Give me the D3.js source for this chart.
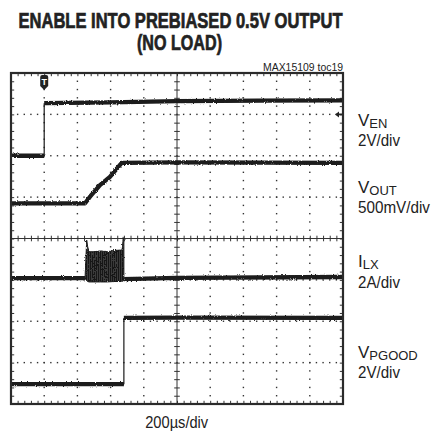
<!DOCTYPE html>
<html>
<head>
<meta charset="utf-8">
<script src="https://cdn.jsdelivr.net/npm/d3@7"></script>
<style>
  html, body { margin: 0; padding: 0; background: #fff; }
  svg { display: block; }
  text { font-family: "Liberation Sans Narrow", "Liberation Sans", Arial, sans-serif; fill: #222; }
</style>
</head>
<body>
<svg id="chart" width="436" height="436">
  <defs>
    <filter id="rough" x="-5%" y="-50%" width="110%" height="200%">
      <feTurbulence type="fractalNoise" baseFrequency="0.9 0.7" numOctaves="2" seed="3" result="n"/>
      <feDisplacementMap in="SourceGraphic" in2="n" scale="2.6" xChannelSelector="R" yChannelSelector="G"/>
    </filter>
    <pattern id="sw" width="2" height="10" patternUnits="userSpaceOnUse">
      <rect width="2" height="10" fill="#777"/>
      <rect width="1.6" height="10" fill="#141414"/>
    </pattern>
  </defs>
</svg>
<script>
// ---- data (time in µs, level in screen divisions from bottom, 0..8) ----
const timeDomain = [0, 2000];            // 10 div × 200 µs
const divDomain = [0, 8];                // 8 vertical divisions

const venTime  = [0, 200, 200, 600, 1000, 1500, 2000];
const venLevel = [6.0, 6.0, 7.27, 7.29, 7.32, 7.33, 7.34];

const voutTime  = [0, 446, 476, 536, 596, 667, 1000, 2000];
const voutLevel = [4.85, 4.85, 5.01, 5.29, 5.49, 5.83, 5.84, 5.83];

const ilxTimeA  = [0, 446];
const ilxLevelA = [3.04, 3.04];
const ilxTimeB  = [680, 1000, 2000];
const ilxLevelB = [3.02, 3.05, 3.07];

const burstTime   = [446, 452, 456, 462, 470, 500, 540, 580, 620, 660, 668, 672, 676, 680];
const burstTop    = [3.04, 3.60, 3.96, 3.80, 3.68, 3.68, 3.70, 3.68, 3.71, 3.72, 3.72, 3.80, 4.04, 4.04];
const burstBottom = [3.04, 3.00, 2.98, 2.96, 2.95, 2.95, 2.95, 2.95, 2.96, 2.96, 2.97, 2.98, 3.00, 3.02];

const pgoodTime  = [0, 680, 680, 1000, 2000];
const pgoodLevel = [0.48, 0.48, 2.08, 2.09, 2.08];

const triggerTime = 200;
const refArrowLevel = 7;

const titleLines = ["ENABLE INTO PREBIASED 0.5V OUTPUT", "(NO LOAD)"];
const tocLabel = "MAX15109 toc19";
const timeLabel = "200µs/div";
const channelLabels = [
  { main: "V", sub: "EN",    scale: "2V/div" },
  { main: "V", sub: "OUT",   scale: "500mV/div" },
  { main: "I", sub: "LX",    scale: "2A/div" },
  { main: "V", sub: "PGOOD", scale: "2V/div" }
];

// ---- layout ----
const svg = d3.select("#chart");
const x = d3.scaleLinear().domain(timeDomain).range([11, 343]);
const y = d3.scaleLinear().domain(divDomain).range([404, 73]);
const ink = "#1a1a1a";

const majorT = d3.range(timeDomain[0], timeDomain[1] + 1, 200);
const minorT = d3.range(timeDomain[0], timeDomain[1] + 1, 40);
const majorD = d3.range(divDomain[0], divDomain[1] + 0.001, 1);
const minorD = d3.range(0, 40 + 1, 1).map(i => i * 0.2);

// grid dots
const grid = svg.append("g");
const vLines = majorT.filter(t => t > 0 && t < 2000 && t !== 1000);
const hLines = majorD.filter(d => d > 0 && d < 8 && d !== 4);
const dots = [];
vLines.forEach(t => minorD.forEach(d => { if (d > 0 && d < 8) dots.push([t, d]); }));
hLines.forEach(d => minorT.forEach(t => { if (t > 0 && t < 2000) dots.push([t, d]); }));
grid.selectAll("rect").data(dots).join("rect")
  .attr("x", d => x(d[0]) - 0.7).attr("y", d => y(d[1]) - 0.7)
  .attr("width", 1.4).attr("height", 1.4).attr("fill", "#333");

// center axes with cross ticks
const cx = x(1000), cy = y(4);
svg.append("line").attr("x1", x(0)).attr("x2", x(2000)).attr("y1", cy).attr("y2", cy)
  .attr("stroke", "#333").attr("stroke-width", 1);
svg.append("line").attr("x1", cx).attr("x2", cx).attr("y1", y(0)).attr("y2", y(8))
  .attr("stroke", "#333").attr("stroke-width", 1);
function styleAxis(g) {
  g.select(".domain").remove();
  g.selectAll(".tick line").attr("stroke", "#333").attr("stroke-width", 1);
  g.selectAll(".tick text").remove();
}
const minorTi = minorT.filter(t => t > 0 && t < 2000);
const minorDi = minorD.filter(d => d > 0 && d < 8);
svg.append("g").attr("transform", `translate(0,${cy})`)
  .call(d3.axisTop(x).tickValues(minorTi).tickSize(2.8).tickFormat("")).call(styleAxis);
svg.append("g").attr("transform", `translate(0,${cy})`)
  .call(d3.axisBottom(x).tickValues(minorTi).tickSize(2.8).tickFormat("")).call(styleAxis);
svg.append("g").attr("transform", `translate(${cx},0)`)
  .call(d3.axisLeft(y).tickValues(minorDi).tickSize(2.8).tickFormat("")).call(styleAxis);
svg.append("g").attr("transform", `translate(${cx},0)`)
  .call(d3.axisRight(y).tickValues(minorDi).tickSize(2.8).tickFormat("")).call(styleAxis);

// border inner ticks
svg.append("g").attr("transform", `translate(0,${y(0)})`)
  .call(d3.axisTop(x).tickValues(minorTi).tickSize(3.2).tickFormat("")).call(styleAxis);
svg.append("g").attr("transform", `translate(0,${y(8)})`)
  .call(d3.axisBottom(x).tickValues(minorTi).tickSize(3.2).tickFormat("")).call(styleAxis);
svg.append("g").attr("transform", `translate(${x(0)},0)`)
  .call(d3.axisRight(y).tickValues(minorDi).tickSize(3.2).tickFormat("")).call(styleAxis);
svg.append("g").attr("transform", `translate(${x(2000)},0)`)
  .call(d3.axisLeft(y).tickValues(minorDi).tickSize(3.2).tickFormat("")).call(styleAxis);

// traces: sloped/flat runs drawn thick and rough, vertical steps thin
const line = d3.line().x(d => x(d[0])).y(d => y(d[1]));
const series = [
  d3.zip(venTime, venLevel),
  d3.zip(voutTime, voutLevel),
  d3.zip(ilxTimeA, ilxLevelA),
  d3.zip(ilxTimeB, ilxLevelB),
  d3.zip(pgoodTime, pgoodLevel)
];
const runs = [], steps = [];
series.forEach(pts => {
  let cur = [pts[0]];
  for (let i = 1; i < pts.length; i++) {
    if (pts[i][0] === pts[i - 1][0]) {
      if (cur.length > 1) runs.push(cur);
      steps.push([pts[i - 1], pts[i]]);
      cur = [pts[i]];
    } else cur.push(pts[i]);
  }
  if (cur.length > 1) runs.push(cur);
});
const tg = svg.append("g").attr("filter", "url(#rough)");
tg.selectAll("path").data(runs).join("path")
  .attr("d", line).attr("fill", "none").attr("stroke", ink)
  .attr("stroke-width", 4.3).attr("stroke-linejoin", "round");
svg.append("g").selectAll("path").data(steps).join("path")
  .attr("d", line).attr("fill", "none").attr("stroke", ink).attr("stroke-width", 1.2);

const burst = burstTime.map((t, i) => ({ t, top: burstTop[i], bot: burstBottom[i] }));
svg.append("path").datum(burst)
  .attr("d", d3.area().x(d => x(d.t)).y0(d => y(d.bot)).y1(d => y(d.top)))
  .attr("fill", "url(#sw)").attr("stroke", ink).attr("stroke-width", 1)
  .attr("filter", "url(#rough)");

// border
svg.append("rect").attr("x", x(0)).attr("y", y(8))
  .attr("width", x(2000) - x(0)).attr("height", y(0) - y(8))
  .attr("fill", "none").attr("stroke", "#2a2a2a").attr("stroke-width", 2.2);

// trigger marker
const tx = x(triggerTime);
svg.append("path")
  .attr("d", `M${tx - 4},77 Q${tx - 4},75 ${tx - 2},75 L${tx + 2},75 Q${tx + 4},75 ${tx + 4},77 L${tx + 4},86 L${tx},90 L${tx - 4},86 Z`)
  .attr("fill", "#222");
svg.append("text").attr("x", tx).attr("y", 85).attr("text-anchor", "middle")
  .attr("font-size", 9).attr("font-weight", "bold").style("fill", "#fff").text("T");

// reference arrow on right edge
const ay = y(refArrowLevel);
svg.append("path")
  .attr("d", `M${x(2000) - 8},${ay} L${x(2000) - 4},${ay - 3} L${x(2000) - 4},${ay + 3} Z M${x(2000) - 5},${ay - 0.8} L${x(2000) - 1},${ay - 0.8} L${x(2000) - 1},${ay + 0.8} L${x(2000) - 5},${ay + 0.8} Z`)
  .attr("fill", "#222");

// titles
svg.append("text").attr("x", 180.5).attr("y", 28).attr("text-anchor", "middle")
  .attr("font-size", 21.5).attr("font-weight", "bold")
  .style("stroke", "#222").style("stroke-width", 0.7)
  .attr("textLength", 324).attr("lengthAdjust", "spacingAndGlyphs")
  .text(titleLines[0]);
svg.append("text").attr("x", 179.5).attr("y", 50).attr("text-anchor", "middle")
  .attr("font-size", 21.5).attr("font-weight", "bold")
  .style("stroke", "#222").style("stroke-width", 0.7)
  .attr("textLength", 85).attr("lengthAdjust", "spacingAndGlyphs")
  .text(titleLines[1]);
svg.append("text").attr("x", 343).attr("y", 70.5).attr("text-anchor", "end")
  .attr("font-size", 10.5).attr("textLength", 80).attr("lengthAdjust", "spacingAndGlyphs")
  .text(tocLabel);

// channel labels
const labelY = [[125.5, 145.5], [193, 213], [267, 288], [358, 378]];
const scaleW = [42, 72, 42, 42];
channelLabels.forEach((c, i) => {
  const t = svg.append("text").attr("x", 358).attr("y", labelY[i][0]).attr("font-size", 17);
  t.append("tspan").text(c.main);
  t.append("tspan").attr("font-size", 13).attr("dy", 2).text(c.sub);
  svg.append("text").attr("x", 358).attr("y", labelY[i][1]).attr("font-size", 17)
    .attr("textLength", scaleW[i]).attr("lengthAdjust", "spacingAndGlyphs").text(c.scale);
});

svg.append("text").attr("x", 176.7).attr("y", 428).attr("text-anchor", "middle")
  .attr("font-size", 16.5).attr("textLength", 63).attr("lengthAdjust", "spacingAndGlyphs")
  .text(timeLabel);
</script>
</body>
</html>
